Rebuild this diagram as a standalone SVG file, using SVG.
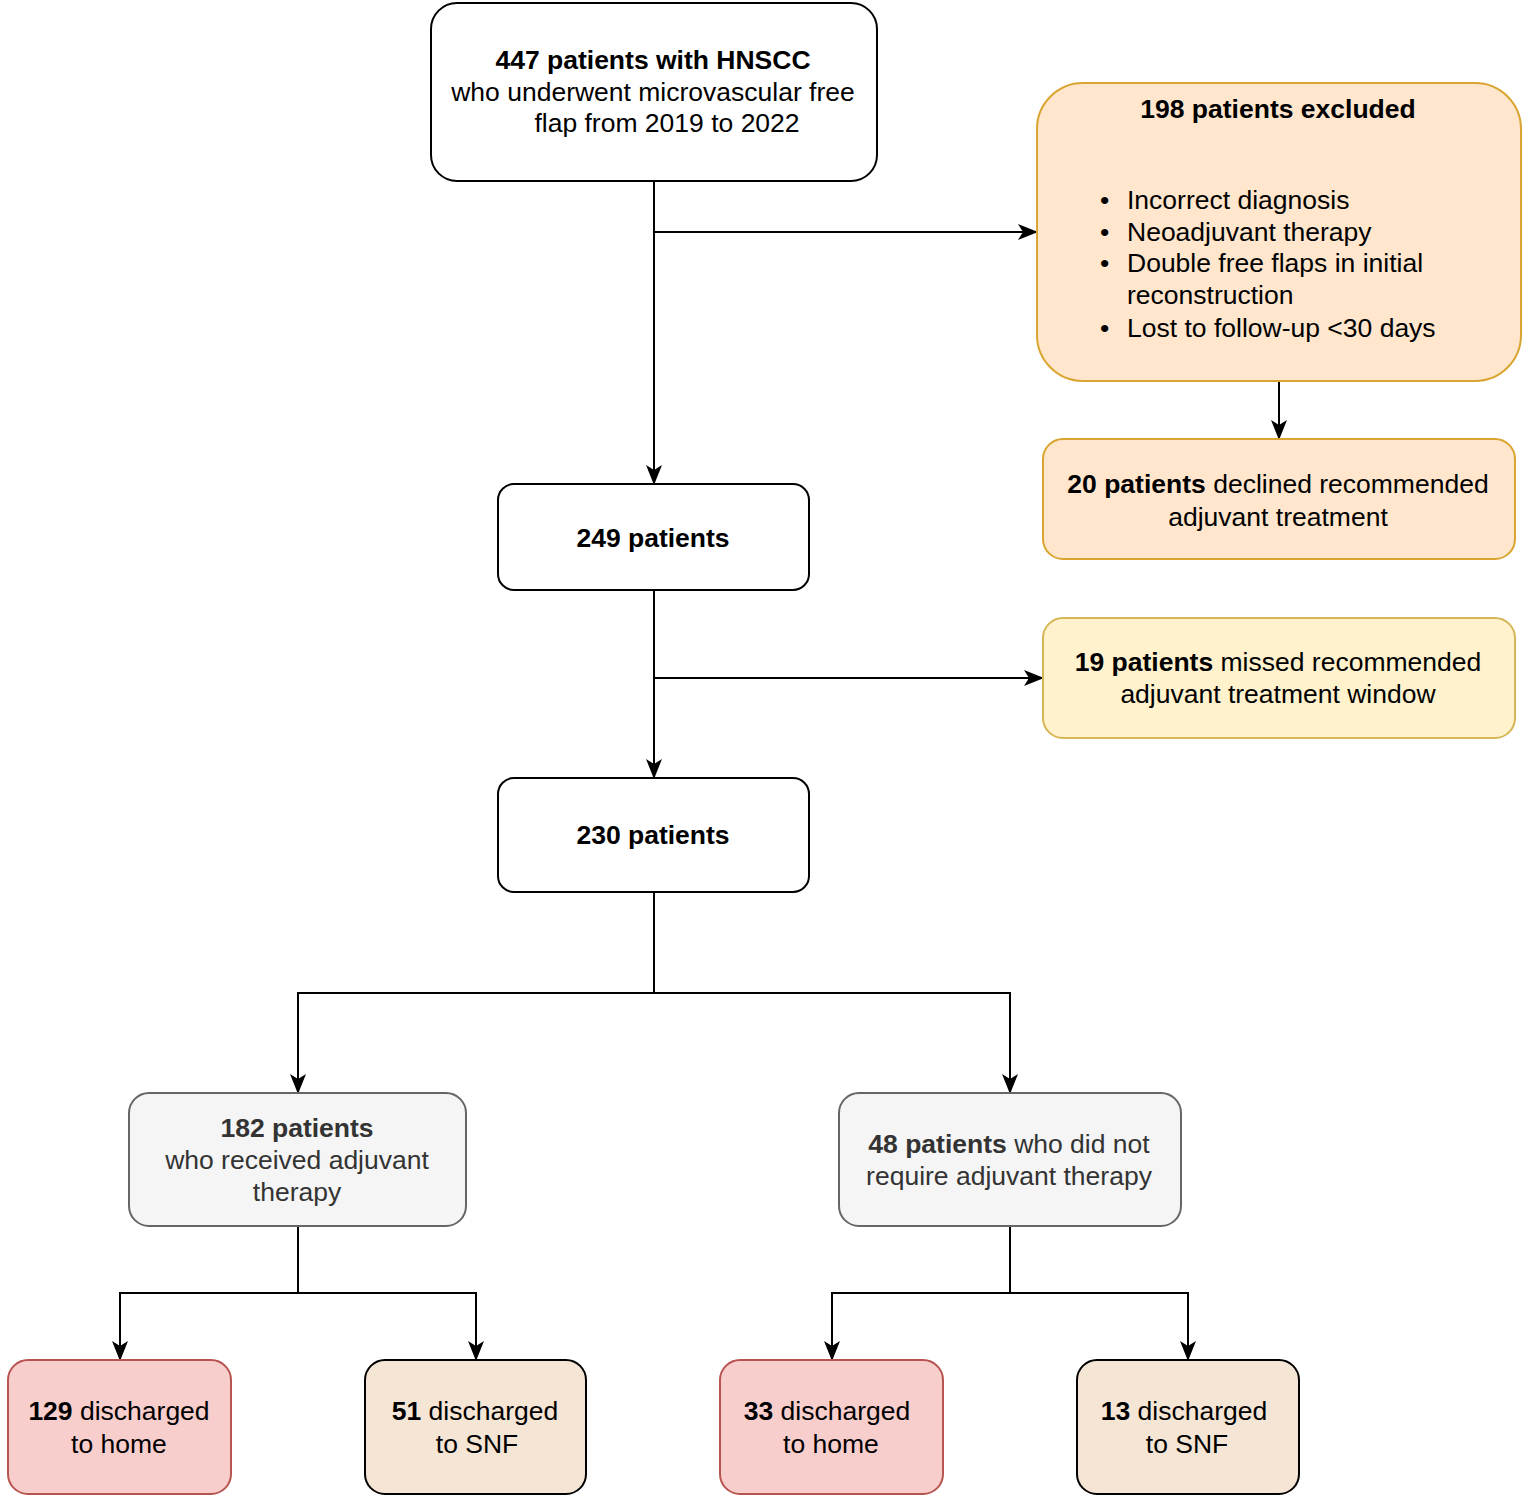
<svg xmlns="http://www.w3.org/2000/svg" width="1537" height="1499" viewBox="0 0 1537 1499">
<defs>
<style>
text{font-family:"Liberation Sans",Arial,Helvetica,sans-serif;font-size:26.5px;fill:#000;text-anchor:middle}
.b{font-weight:bold}
.g text{fill:#333}
.box{stroke-width:2}
.w{fill:#fff;stroke:#000}
.org{fill:#ffe6cc;stroke:#d9a530}
.yel{fill:#fff2cc;stroke:#d6b656}
.gry{fill:#f5f5f5;stroke:#666}
.red{fill:#f8cecc;stroke:#b85450}
.tan{fill:#f5e5d5;stroke:#000}
.c{fill:none;stroke:#000;stroke-width:2}
</style>
<marker id="a" viewBox="0 0 20 16" refX="19" refY="8" markerWidth="20" markerHeight="16" markerUnits="userSpaceOnUse" orient="auto">
<path d="M0,0 L20,8 L0,16 L5,8 Z" fill="#000"/>
</marker>
</defs>
<rect width="1537" height="1499" fill="#fff"/>
<g id="connectors">
<path class="c" d="M654,181 V484" marker-end="url(#a)"/>
<path class="c" d="M654,232 H1037" marker-end="url(#a)"/>
<path class="c" d="M1279,381 V439" marker-end="url(#a)"/>
<path class="c" d="M654,590 V778" marker-end="url(#a)"/>
<path class="c" d="M654,678 H1043" marker-end="url(#a)"/>
<path class="c" d="M654,892 V993 H298 V1093" marker-end="url(#a)"/>
<path class="c" d="M654,993 H1010 V1093" marker-end="url(#a)"/>
<path class="c" d="M298,1226 V1293 H120 V1360" marker-end="url(#a)"/>
<path class="c" d="M298,1293 H476 V1360" marker-end="url(#a)"/>
<path class="c" d="M1010,1226 V1293 H832 V1360" marker-end="url(#a)"/>
<path class="c" d="M1010,1293 H1188 V1360" marker-end="url(#a)"/>
</g>
<g id="n447">
<rect class="box w" x="431" y="3" width="446" height="178" rx="26"/>
<text class="b" x="653" y="69">447 patients with HNSCC</text>
<text x="653" y="101">who underwent microvascular free</text>
<text x="667" y="132">flap from 2019 to 2022</text>
</g>
<g id="n198">
<rect class="box org" x="1037" y="83" width="484" height="298" rx="46"/>
<text class="b" x="1278" y="118">198 patients excluded</text>
<g style="text-anchor:start">
<text x="1100" y="209" style="text-anchor:start">•</text>
<text x="1127" y="209" style="text-anchor:start">Incorrect diagnosis</text>
<text x="1100" y="241" style="text-anchor:start">•</text>
<text x="1127" y="241" style="text-anchor:start">Neoadjuvant therapy</text>
<text x="1100" y="272" style="text-anchor:start">•</text>
<text x="1127" y="272" style="text-anchor:start">Double free flaps in initial</text>
<text x="1127" y="304" style="text-anchor:start">reconstruction</text>
<text x="1100" y="337" style="text-anchor:start">•</text>
<text x="1127" y="337" style="text-anchor:start">Lost to follow-up &lt;30 days</text>
</g>
</g>
<g id="n20">
<rect class="box org" x="1043" y="439" width="472" height="120" rx="20"/>
<text x="1278" y="493"><tspan class="b">20 patients</tspan> declined recommended</text>
<text x="1278" y="526">adjuvant treatment</text>
</g>
<g id="n19">
<rect class="box yel" x="1043" y="618" width="472" height="120" rx="20"/>
<text x="1278" y="671"><tspan class="b">19 patients</tspan> missed recommended</text>
<text x="1278" y="703">adjuvant treatment window</text>
</g>
<g id="n249">
<rect class="box w" x="498" y="484" width="311" height="106" rx="16"/>
<text class="b" x="653" y="547">249 patients</text>
</g>
<g id="n230">
<rect class="box w" x="498" y="778" width="311" height="114" rx="16"/>
<text class="b" x="653" y="844">230 patients</text>
</g>
<g id="n182" class="g">
<rect class="box gry" x="129" y="1093" width="337" height="133" rx="20"/>
<text class="b" x="297" y="1137">182 patients</text>
<text x="297" y="1169">who received adjuvant</text>
<text x="297" y="1201">therapy</text>
</g>
<g id="n48" class="g">
<rect class="box gry" x="839" y="1093" width="342" height="133" rx="20"/>
<text x="1009" y="1153"><tspan class="b">48 patients</tspan> who did not</text>
<text x="1009" y="1185">require adjuvant therapy</text>
</g>
<g id="n129">
<rect class="box red" x="8" y="1360" width="223" height="134" rx="20"/>
<text x="119" y="1420"><tspan class="b">129</tspan> discharged</text>
<text x="119" y="1453">to home</text>
</g>
<g id="n51">
<rect class="box tan" x="365" y="1360" width="221" height="134" rx="20"/>
<text x="475" y="1420"><tspan class="b">51</tspan> discharged</text>
<text x="477" y="1453">to SNF</text>
</g>
<g id="n33">
<rect class="box red" x="720" y="1360" width="223" height="134" rx="20"/>
<text x="827" y="1420"><tspan class="b">33</tspan> discharged</text>
<text x="831" y="1453">to home</text>
</g>
<g id="n13">
<rect class="box tan" x="1077" y="1360" width="222" height="134" rx="20"/>
<text x="1184" y="1420"><tspan class="b">13</tspan> discharged</text>
<text x="1187" y="1453">to SNF</text>
</g>
</svg>
